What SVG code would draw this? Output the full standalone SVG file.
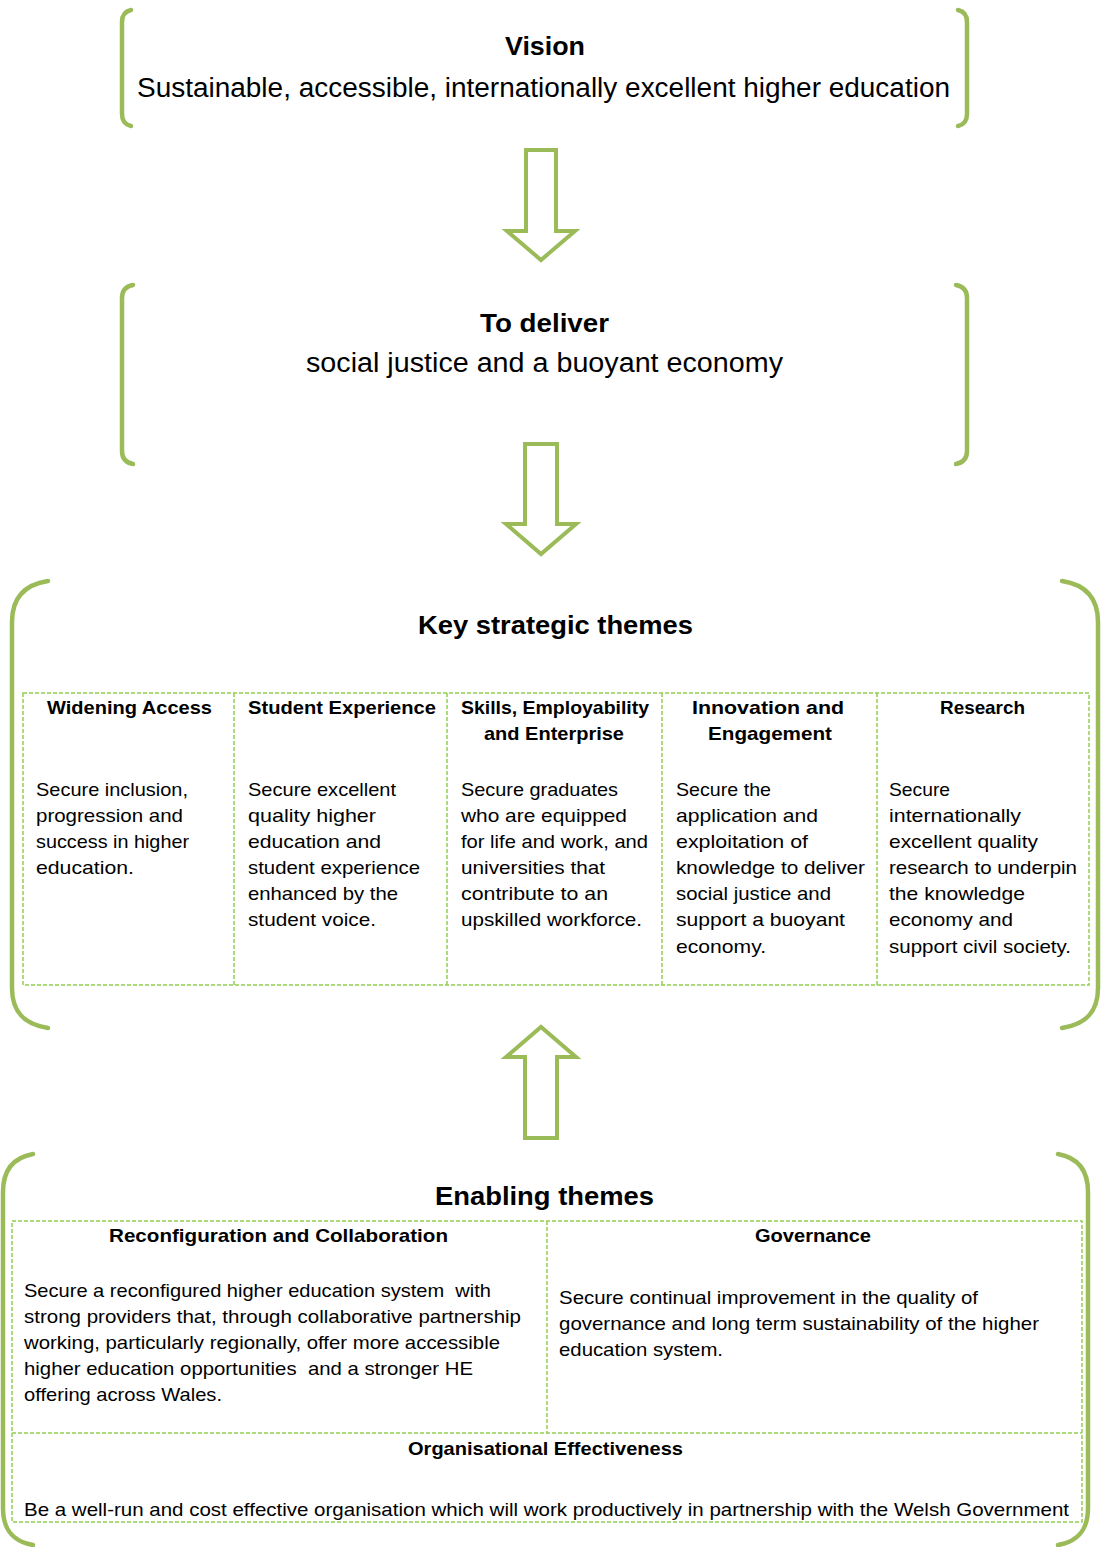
<svg xmlns="http://www.w3.org/2000/svg" width="1102" height="1547" viewBox="0 0 1102 1547">
<style>
.br{fill:none;stroke:#9BBB59;stroke-width:4.5;stroke-linecap:round;stroke-linejoin:round}
.ar{fill:#fff;stroke:#9BBB59;stroke-width:4;stroke-linejoin:miter}
.ds{fill:none;stroke:#92D050;stroke-width:1.5;stroke-dasharray:4 2}
text{font-family:"Liberation Sans",Arial,sans-serif;fill:#000}
.t{font-size:26px;font-weight:bold}
.s{font-size:27px}
.h{font-size:19px;font-weight:bold}
.b{font-size:19px}
</style>
<rect width="1102" height="1547" fill="#fff"/>

<g id="vision">
<path class="br" d="M131,10 Q122,12 122,22 L122,114 Q122,124 131,126"/>
<path class="br" d="M958,10 Q967,12 967,22 L967,114 Q967,124 958,126"/>
<text class="t" x="505" y="55" textLength="80" lengthAdjust="spacingAndGlyphs">Vision</text>
<text class="s" x="137" y="97" textLength="813" lengthAdjust="spacingAndGlyphs">Sustainable, accessible, internationally excellent higher education</text>
</g>

<g id="deliver">
<path class="br" d="M133,285 Q122,287 122,298 L122,451 Q122,462 133,464"/>
<path class="br" d="M956,285 Q967,287 967,298 L967,451 Q967,462 956,464"/>
<text class="t" x="480" y="332" textLength="129" lengthAdjust="spacingAndGlyphs">To deliver</text>
<text class="s" x="306" y="372" textLength="477" lengthAdjust="spacingAndGlyphs">social justice and a buoyant economy</text>
</g>

<g id="connectors">
<polygon class="ar" points="526,150 556,150 556,231 575,231 541,260 507,231 526,231"/>
<polygon class="ar" points="525,444 557,444 557,524 576,524 541,554 506,524 525,524"/>
<polygon class="ar" points="525,1138 557,1138 557,1057 576,1057 541,1027 506,1057 525,1057"/>
</g>

<g id="key-themes">
<path class="br" d="M48,581 C22,585 12,600 12,622 L12,988 C12,1010 22,1024 48,1028"/>
<path class="br" d="M1062,581 C1088,585 1098,600 1098,622 L1098,988 C1098,1010 1088,1024 1062,1028"/>
<text class="t" x="418" y="634" textLength="275" lengthAdjust="spacingAndGlyphs">Key strategic themes</text>
<rect class="ds" x="23" y="693" width="1066" height="292"/>
<line class="ds" x1="234" y1="693" x2="234" y2="985"/>
<line class="ds" x1="447" y1="693" x2="447" y2="985"/>
<line class="ds" x1="662" y1="693" x2="662" y2="985"/>
<line class="ds" x1="877" y1="693" x2="877" y2="985"/>

<g id="widening-access">
<text class="h" x="47" y="714" textLength="165" lengthAdjust="spacingAndGlyphs">Widening Access</text>
<text class="b" x="36" y="796" textLength="152" lengthAdjust="spacingAndGlyphs">Secure inclusion,</text>
<text class="b" x="36" y="822" textLength="147" lengthAdjust="spacingAndGlyphs">progression and</text>
<text class="b" x="36" y="848" textLength="153" lengthAdjust="spacingAndGlyphs">success in higher</text>
<text class="b" x="36" y="874" textLength="98" lengthAdjust="spacingAndGlyphs">education.</text>
</g>

<g id="student-experience">
<text class="h" x="248" y="714" textLength="188" lengthAdjust="spacingAndGlyphs">Student Experience</text>
<text class="b" x="248" y="796" textLength="148" lengthAdjust="spacingAndGlyphs">Secure excellent</text>
<text class="b" x="248" y="822" textLength="128" lengthAdjust="spacingAndGlyphs">quality higher</text>
<text class="b" x="248" y="848" textLength="133" lengthAdjust="spacingAndGlyphs">education and</text>
<text class="b" x="248" y="874" textLength="172" lengthAdjust="spacingAndGlyphs">student experience</text>
<text class="b" x="248" y="900" textLength="150" lengthAdjust="spacingAndGlyphs">enhanced by the</text>
<text class="b" x="248" y="926" textLength="128" lengthAdjust="spacingAndGlyphs">student voice.</text>
</g>

<g id="skills">
<text class="h" x="461" y="714" textLength="188" lengthAdjust="spacingAndGlyphs">Skills, Employability</text>
<text class="h" x="484" y="740" textLength="140" lengthAdjust="spacingAndGlyphs">and Enterprise</text>
<text class="b" x="461" y="796" textLength="157" lengthAdjust="spacingAndGlyphs">Secure graduates</text>
<text class="b" x="461" y="822" textLength="166" lengthAdjust="spacingAndGlyphs">who are equipped</text>
<text class="b" x="461" y="848" textLength="187" lengthAdjust="spacingAndGlyphs">for life and work, and</text>
<text class="b" x="461" y="874" textLength="144" lengthAdjust="spacingAndGlyphs">universities that</text>
<text class="b" x="461" y="900" textLength="147" lengthAdjust="spacingAndGlyphs">contribute to an</text>
<text class="b" x="461" y="926" textLength="181" lengthAdjust="spacingAndGlyphs">upskilled workforce.</text>
</g>

<g id="innovation">
<text class="h" x="692" y="714" textLength="152" lengthAdjust="spacingAndGlyphs">Innovation and</text>
<text class="h" x="708" y="740" textLength="124" lengthAdjust="spacingAndGlyphs">Engagement</text>
<text class="b" x="676" y="796" textLength="95" lengthAdjust="spacingAndGlyphs">Secure the</text>
<text class="b" x="676" y="822" textLength="142" lengthAdjust="spacingAndGlyphs">application and</text>
<text class="b" x="676" y="848" textLength="132" lengthAdjust="spacingAndGlyphs">exploitation of</text>
<text class="b" x="676" y="874" textLength="189" lengthAdjust="spacingAndGlyphs">knowledge to deliver</text>
<text class="b" x="676" y="900" textLength="155" lengthAdjust="spacingAndGlyphs">social justice and</text>
<text class="b" x="676" y="926" textLength="169" lengthAdjust="spacingAndGlyphs">support a buoyant</text>
<text class="b" x="676" y="953" textLength="90" lengthAdjust="spacingAndGlyphs">economy.</text>
</g>

<g id="research">
<text class="h" x="940" y="714" textLength="85" lengthAdjust="spacingAndGlyphs">Research</text>
<text class="b" x="889" y="796" textLength="61" lengthAdjust="spacingAndGlyphs">Secure</text>
<text class="b" x="889" y="822" textLength="132" lengthAdjust="spacingAndGlyphs">internationally</text>
<text class="b" x="889" y="848" textLength="149" lengthAdjust="spacingAndGlyphs">excellent quality</text>
<text class="b" x="889" y="874" textLength="188" lengthAdjust="spacingAndGlyphs">research to underpin</text>
<text class="b" x="889" y="900" textLength="136" lengthAdjust="spacingAndGlyphs">the knowledge</text>
<text class="b" x="889" y="926" textLength="124" lengthAdjust="spacingAndGlyphs">economy and</text>
<text class="b" x="889" y="953" textLength="182" lengthAdjust="spacingAndGlyphs">support civil society.</text>
</g>
</g>

<g id="enabling-themes">
<path class="br" d="M33,1154 C11,1158 3,1172 3,1192 L3,1508 C3,1528 11,1541 33,1545"/>
<path class="br" d="M1058,1154 C1080,1158 1088,1172 1088,1192 L1088,1508 C1088,1528 1080,1541 1058,1545"/>
<text class="t" x="435" y="1205" textLength="219" lengthAdjust="spacingAndGlyphs">Enabling themes</text>
<rect class="ds" x="12" y="1221" width="1070" height="301"/>
<line class="ds" x1="547" y1="1221" x2="547" y2="1433"/>
<line class="ds" x1="12" y1="1433" x2="1082" y2="1433"/>

<g id="reconfiguration">
<text class="h" x="109" y="1242" textLength="339" lengthAdjust="spacingAndGlyphs">Reconfiguration and Collaboration</text>
<text class="b" x="24" y="1297" textLength="467" lengthAdjust="spacingAndGlyphs" xml:space="preserve">Secure a reconfigured higher education system  with</text>
<text class="b" x="24" y="1323" textLength="497" lengthAdjust="spacingAndGlyphs">strong providers that, through collaborative partnership</text>
<text class="b" x="24" y="1349" textLength="476" lengthAdjust="spacingAndGlyphs">working, particularly regionally, offer more accessible</text>
<text class="b" x="24" y="1375" textLength="449" lengthAdjust="spacingAndGlyphs" xml:space="preserve">higher education opportunities  and a stronger HE</text>
<text class="b" x="24" y="1401" textLength="198" lengthAdjust="spacingAndGlyphs">offering across Wales.</text>
</g>

<g id="governance">
<text class="h" x="755" y="1242" textLength="116" lengthAdjust="spacingAndGlyphs">Governance</text>
<text class="b" x="559" y="1304" textLength="419" lengthAdjust="spacingAndGlyphs">Secure continual improvement in the quality of</text>
<text class="b" x="559" y="1330" textLength="480" lengthAdjust="spacingAndGlyphs">governance and long term sustainability of the higher</text>
<text class="b" x="559" y="1356" textLength="164" lengthAdjust="spacingAndGlyphs">education system.</text>
</g>

<g id="organisational-effectiveness">
<text class="h" x="408" y="1455" textLength="275" lengthAdjust="spacingAndGlyphs">Organisational Effectiveness</text>
<text class="b" x="24" y="1516" textLength="1045" lengthAdjust="spacingAndGlyphs">Be a well-run and cost effective organisation which will work productively in partnership with the Welsh Government</text>
</g>
</g>
</svg>
